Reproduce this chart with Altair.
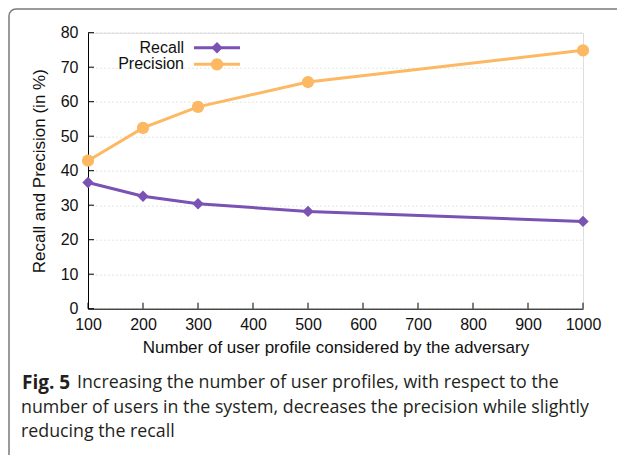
import altair as alt
import pandas as pd

profiles = [100, 200, 300, 500, 1000]
recall = [36.6, 32.6, 30.4, 28.2, 25.3]
precision = [42.9, 52.4, 58.5, 65.7, 74.9]
series_names = ["Recall", "Precision"]
colors = ["#7952b3", "#fdb863"]
x_ticks = [100, 200, 300, 400, 500, 600, 700, 800, 900, 1000]
y_ticks = [0, 10, 20, 30, 40, 50, 60, 70, 80]
caption_bold = "Fig. 5"
caption_lines = [
    "Increasing the number of user profiles, with respect to the",
    "number of users in the system, decreases the precision while slightly",
    "reducing the recall",
]

W, H = 495, 276
OX, OY = 88, 32.7  # plot origin in page pixels (for layout only)

df = pd.DataFrame(
    {
        "profiles": profiles * 2,
        "value": recall + precision,
        "series": ["Recall"] * len(profiles) + ["Precision"] * len(profiles),
    }
)

xs = alt.Scale(domain=[100, 1000], nice=False)
ys = alt.Scale(domain=[0, 80], nice=False)
cs = alt.Scale(domain=series_names, range=colors)

xaxis = alt.Axis(
    values=x_ticks,
    format="d",
    title="Number of user profile considered by the adversary",
    grid=False,
    ticks=False,
    domainColor="black",
    labelFontSize=16,
    labelColor="#111",
    labelPadding=8,
    labelOverlap=False,
    labelFlush=False,
    titleFontSize=17,
    titleFontWeight="normal",
    titleColor="#111",
    titlePadding=7,
    labelFont="Liberation Sans",
    titleFont="Liberation Sans",
)
yaxis = alt.Axis(
    values=y_ticks,
    format="d",
    title="Recall and Precision (in %)",
    grid=True,
    gridColor="#cccccc",
    gridDash=[1, 3],
    ticks=False,
    domainColor="black",
    labelFontSize=16,
    labelColor="#111",
    labelPadding=10,
    labelOverlap=False,
    labelFlush=False,
    titleFontSize=17,
    titleFontWeight="normal",
    titleColor="#111",
    titlePadding=12,
    labelFont="Liberation Sans",
    titleFont="Liberation Sans",
)

base = alt.Chart(df).encode(
    x=alt.X("profiles:Q", scale=xs, axis=xaxis),
    y=alt.Y("value:Q", scale=ys, axis=yaxis),
    color=alt.Color("series:N", scale=cs, legend=None),
)

lines = base.mark_line(strokeWidth=3)
rec_pts = base.transform_filter(alt.datum.series == "Recall").mark_point(
    shape="diamond", filled=True, size=130, opacity=1
)
pre_pts = base.transform_filter(alt.datum.series == "Precision").mark_point(
    shape="circle", filled=True, size=150, opacity=1
)

# inward ticks
xt = alt.Chart(pd.DataFrame({"profiles": x_ticks})).mark_rule(color="black", strokeWidth=1).encode(
    x=alt.X("profiles:Q", scale=xs, axis=xaxis), y=alt.value(H), y2=alt.value(H - 6)
)
yt = alt.Chart(pd.DataFrame({"value": y_ticks})).mark_rule(color="black", strokeWidth=1).encode(
    y=alt.Y("value:Q", scale=ys, axis=yaxis), x=alt.value(0), x2=alt.value(6)
)

# manual legend (label left, sample right)
leg_layers = []
for i, (name, col, shp, sz) in enumerate(
    zip(series_names, colors, ["diamond", "circle"], [130, 150])
):
    ly = 47.7 - OY + i * 16.6
    leg_layers.append(
        alt.Chart(pd.DataFrame({"t": [name]})).mark_text(
            align="right", baseline="middle", fontSize=16, font="Liberation Sans", color="#111"
        ).encode(text="t:N", x=alt.value(184 - OX), y=alt.value(ly))
    )
    leg_layers.append(
        alt.Chart(pd.DataFrame({"t": [name]})).mark_rule(strokeWidth=3, color=col).encode(
            x=alt.value(194 - OX), x2=alt.value(240 - OX), y=alt.value(ly)
        )
    )
    leg_layers.append(
        alt.Chart(pd.DataFrame({"t": [name]})).mark_point(
            shape=shp, filled=True, size=sz, color=col, opacity=1
        ).encode(x=alt.value(217 - OX), y=alt.value(ly))
    )

# figure frame
frame = alt.Chart(pd.DataFrame({"a": [0]})).mark_rect(
    fill=None, stroke="#7a7a7a", strokeWidth=1.5, cornerRadius=7, clip=False
).encode(
    x=alt.value(9 - OX), x2=alt.value(640 - OX), y=alt.value(9 - OY), y2=alt.value(470 - OY)
)

# caption
cap_font = "Open Sans"
cap_size = 17.8
cap_y0 = 383 - OY
cap_lh = 24.5
cap_layers = [
    alt.Chart(pd.DataFrame({"t": [caption_bold]})).mark_text(
        align="left", baseline="middle", fontSize=19, font=cap_font, fontWeight="bold", color="#231f20"
    ).encode(text="t:N", x=alt.value(22 - OX), y=alt.value(cap_y0)),
    alt.Chart(pd.DataFrame({"t": [caption_lines[0]]})).mark_text(
        align="left", baseline="middle", fontSize=cap_size, font=cap_font, color="#231f20"
    ).encode(text="t:N", x=alt.value(77 - OX), y=alt.value(cap_y0)),
]
for k in (1, 2):
    cap_layers.append(
        alt.Chart(pd.DataFrame({"t": [caption_lines[k]]})).mark_text(
            align="left", baseline="middle", fontSize=cap_size, font=cap_font, color="#231f20"
        ).encode(text="t:N", x=alt.value(21 - OX), y=alt.value(cap_y0 + k * cap_lh))
    )

chart = alt.layer(frame, lines, rec_pts, pre_pts, xt, yt, *leg_layers, *cap_layers).properties(
    width=W,
    height=H,
    autosize=alt.AutoSizeParams(type="none"),
    padding={"left": OX - 8, "top": OY - 8, "right": 617 - OX - W, "bottom": 455 - OY - H},
).configure_view(stroke=None).configure(background="white")

chart.save("out.html", embed_options={"renderer": "svg", "actions": False})
